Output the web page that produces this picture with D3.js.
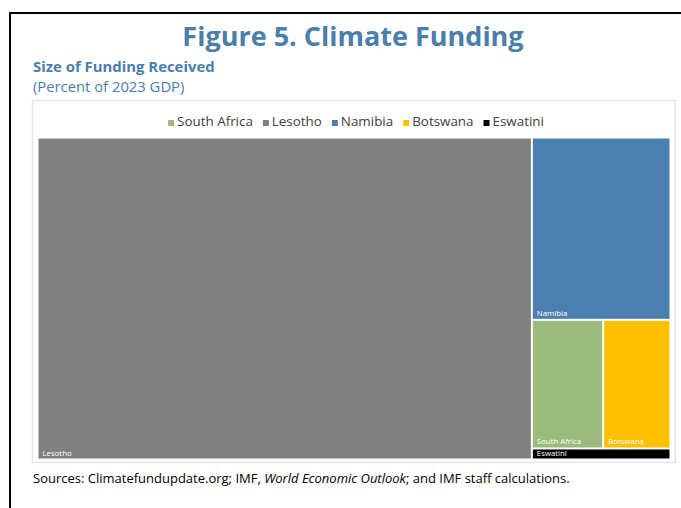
<!DOCTYPE html>
<html>
<head>
<meta charset="utf-8">
<script src="https://cdn.jsdelivr.net/npm/d3@7"></script>
<style>
  html, body { margin: 0; padding: 0; background: #fff; }
  svg { display: block; }
</style>
</head>
<body>
<svg id="chart" width="681" height="508"></svg>
<script>
// Climate funding received, percent of 2023 GDP
const countries = ["South Africa", "Lesotho", "Namibia", "Botswana", "Eswatini"];
const funding = [0.090, 1.562, 0.248, 0.085, 0.015];
const colors = ["#9bbb7b", "#808080", "#4a7fb0", "#ffc000", "#000000"];

const svg = d3.select("#chart");
const blue = "#4a7eab";
const font = "'Open Sans', 'Noto Sans', sans-serif";

// frame lines
svg.append("line").attr("x1", 10).attr("x2", 681).attr("y1", 13).attr("y2", 13)
  .attr("stroke", "#000").attr("stroke-width", 2);
svg.append("line").attr("x1", 10).attr("x2", 10).attr("y1", 12).attr("y2", 508)
  .attr("stroke", "#000").attr("stroke-width", 2);

// titles
svg.append("text").attr("x", 353).attr("y", 46).attr("text-anchor", "middle")
  .attr("font-family", font).attr("font-weight", 700).attr("font-size", 27)
  .attr("fill", blue).text("Figure 5. Climate Funding");
svg.append("text").attr("x", 33).attr("y", 72)
  .attr("font-family", font).attr("font-weight", 700).attr("font-size", 14.9)
  .attr("fill", blue).text("Size of Funding Received");
svg.append("text").attr("x", 33).attr("y", 92)
  .attr("font-family", font).attr("font-size", 14.8)
  .attr("fill", blue).text("(Percent of 2023 GDP)");

// chart box
svg.append("rect").attr("x", 32.5).attr("y", 100.5).attr("width", 643).attr("height", 362)
  .attr("fill", "#fff").attr("stroke", "#e6e6e6").attr("stroke-width", 1.5);

// legend
const legend = svg.append("g");
let lx = 0;
countries.forEach((c, i) => {
  const g = legend.append("g").attr("transform", `translate(${lx},0)`);
  g.append("rect").attr("x", 0).attr("y", -6).attr("width", 6).attr("height", 6).attr("fill", colors[i]);
  const t = g.append("text").attr("x", 9).attr("y", 0)
    .attr("font-family", font).attr("font-size", 13.4).attr("fill", "#404040").text(c);
  lx += 9 + t.node().getComputedTextLength() + 10;
});
const lw = lx - 10;
legend.attr("transform", `translate(${356 - lw / 2},126)`);

// treemap
const root = d3.hierarchy({children: countries.map((c, i) => ({name: c, value: funding[i], color: colors[i]}))})
  .sum(d => d.value || 0)
  .sort((a, b) => b.value - a.value);

d3.treemap()
  .tile(d3.treemapSquarify.ratio(1))
  .size([631, 320])
  .paddingInner(2)(root);

const cells = svg.append("g").attr("transform", "translate(38.5,138.5)")
  .selectAll("g").data(root.leaves()).join("g")
  .attr("transform", d => `translate(${d.x0},${d.y0})`);

cells.append("rect")
  .attr("width", d => d.x1 - d.x0)
  .attr("height", d => d.y1 - d.y0)
  .attr("fill", d => d.data.color);

cells.append("text")
  .attr("x", 4)
  .attr("y", d => d.y1 - d.y0 - 3)
  .attr("font-family", font).attr("font-size", 7.8).attr("fill", "#fff")
  .text(d => d.data.name);

// source note
const src = svg.append("text").attr("x", 33).attr("y", 483)
  .attr("font-family", font).attr("font-size", 13).attr("fill", "#000");
src.append("tspan").text("Sources: Climatefundupdate.org; IMF, ");
src.append("tspan").attr("font-style", "italic").text("World Economic Outlook");
src.append("tspan").text("; and IMF staff calculations.");
</script>
</body>
</html>
